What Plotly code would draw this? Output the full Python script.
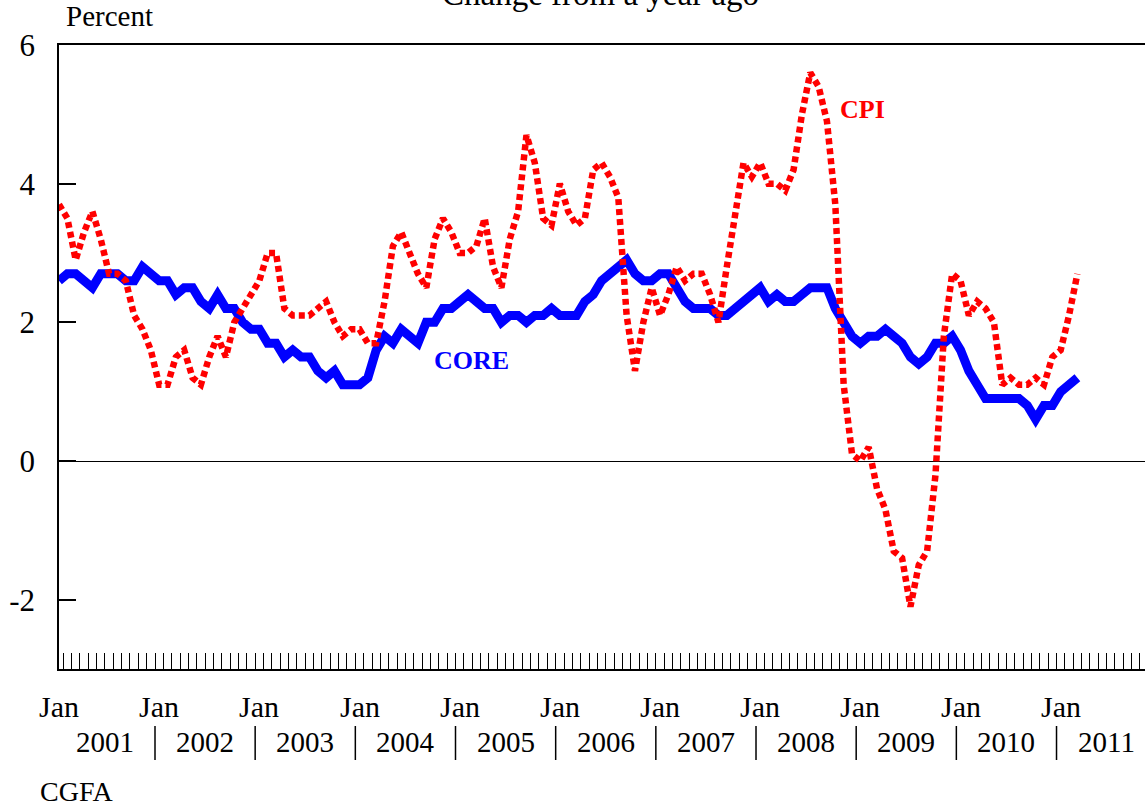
import plotly.graph_objects as go

# ---- data: year-over-year % change, monthly from Jan 2001 to Mar 2011 ----
cpi = [3.7, 3.5, 2.9, 3.3, 3.6, 3.2, 2.7, 2.7, 2.6, 2.1, 1.9, 1.6,
       1.1, 1.1, 1.5, 1.6, 1.2, 1.1, 1.5, 1.8, 1.5, 2.0, 2.2, 2.4,
       2.6, 3.0, 3.0, 2.2, 2.1, 2.1, 2.1, 2.2, 2.3, 2.0, 1.8, 1.9,
       1.9, 1.7, 1.7, 2.3, 3.1, 3.3, 3.0, 2.7, 2.5, 3.2, 3.5, 3.3,
       3.0, 3.0, 3.1, 3.5, 2.8, 2.5, 3.2, 3.6, 4.7, 4.3, 3.5, 3.4,
       4.0, 3.6, 3.4, 3.5, 4.2, 4.3, 4.1, 3.8, 2.1, 1.3, 2.0, 2.5,
       2.1, 2.4, 2.8, 2.6, 2.7, 2.7, 2.4, 2.0, 2.8, 3.5, 4.3, 4.1,
       4.3, 4.0, 4.0, 3.9, 4.2, 5.0, 5.6, 5.4, 4.9, 3.7, 1.1, 0.1,
       0.0, 0.2, -0.4, -0.7, -1.3, -1.4, -2.1, -1.5, -1.3, -0.2, 1.8, 2.7,
       2.6, 2.1, 2.3, 2.2, 2.0, 1.1, 1.2, 1.1, 1.1, 1.2, 1.1, 1.5,
       1.6, 2.1, 2.7]

core = [2.6, 2.7, 2.7, 2.6, 2.5, 2.7, 2.7, 2.7, 2.6, 2.6, 2.8, 2.7,
        2.6, 2.6, 2.4, 2.5, 2.5, 2.3, 2.2, 2.4, 2.2, 2.2, 2.0, 1.9,
        1.9, 1.7, 1.7, 1.5, 1.6, 1.5, 1.5, 1.3, 1.2, 1.3, 1.1, 1.1,
        1.1, 1.2, 1.6, 1.8, 1.7, 1.9, 1.8, 1.7, 2.0, 2.0, 2.2, 2.2,
        2.3, 2.4, 2.3, 2.2, 2.2, 2.0, 2.1, 2.1, 2.0, 2.1, 2.1, 2.2,
        2.1, 2.1, 2.1, 2.3, 2.4, 2.6, 2.7, 2.8, 2.9, 2.7, 2.6, 2.6,
        2.7, 2.7, 2.5, 2.3, 2.2, 2.2, 2.2, 2.1, 2.1, 2.2, 2.3, 2.4,
        2.5, 2.3, 2.4, 2.3, 2.3, 2.4, 2.5, 2.5, 2.5, 2.2, 2.0, 1.8,
        1.7, 1.8, 1.8, 1.9, 1.8, 1.7, 1.5, 1.4, 1.5, 1.7, 1.7, 1.8,
        1.6, 1.3, 1.1, 0.9, 0.9, 0.9, 0.9, 0.9, 0.8, 0.6, 0.8, 0.8,
        1.0, 1.1, 1.2]

years = ["2001", "2002", "2003", "2004", "2005", "2006",
         "2007", "2008", "2009", "2010", "2011"]
y_ticks = [-2, 0, 2, 4, 6]
y_tick_text = ["-2", "0", "2", "4", "6"]

month_index = list(range(len(cpi)))          # 0 = Jan 2001
jan_pos = [12 * k for k in range(len(years))]
year_mid = [12 * k + 5.5 for k in range(len(years))]
year_sep = [12 * k - 0.5 for k in range(1, len(years))]
month_bounds = [k + 0.5 for k in range(130)]

X_RANGE = [0, 130.1]
FONT = "Liberation Serif, Times New Roman, serif"

W, H = 1145, 804
ML, MR, MT, MB = 59, 0, 45, 135
PH = H - MT - MB
PW = W - ML - MR


def py(pix):  # pixel y -> paper y
    return (H - MB - pix) / PH


def px(pix):  # pixel x -> paper x
    return (pix - ML) / PW


fig = go.Figure()
fig.add_trace(go.Scatter(x=month_index, y=core, mode="lines", name="CORE",
                         line=dict(color="#0000FF", width=9)))
fig.add_trace(go.Scatter(x=month_index, y=cpi, mode="lines", name="CPI",
                         line=dict(color="#FF0000", width=6.5, dash="6px,4px")))

fig.update_layout(
    width=W, height=H,
    margin=dict(l=ML, r=MR, t=MT, b=MB, pad=0),
    paper_bgcolor="white", plot_bgcolor="white",
    showlegend=False,
    font=dict(family=FONT, color="black"),
    xaxis=dict(range=X_RANGE, showgrid=False, zeroline=False,
               showline=True, linecolor="black", linewidth=1.5, mirror=True,
               tickmode="array", tickvals=month_bounds, ticks="inside",
               ticklen=16, tickwidth=1, tickcolor="black",
               showticklabels=False),
    yaxis=dict(range=[-3, 6], showgrid=False,
               zeroline=True, zerolinecolor="black", zerolinewidth=1.2,
               showline=True, linecolor="black", linewidth=1.5,
               tickmode="array", tickvals=y_ticks, ticktext=y_tick_text,
               ticks="inside", ticklen=17, tickwidth=1.5, tickcolor="black",
               ticklabelstandoff=16,
               tickfont=dict(family=FONT, size=31, color="black")),
)

# "Jan" labels under each January
for p in jan_pos:
    fig.add_annotation(text="Jan", xref="x", yref="paper", x=p, y=py(706),
                       xanchor="center", yanchor="middle", showarrow=False,
                       font=dict(family=FONT, size=30, color="black"))
# year labels centred on each year
for p, t in zip(year_mid, years):
    fig.add_annotation(text=t, xref="x", yref="paper", x=p, y=py(742),
                       xanchor="center", yanchor="middle", showarrow=False,
                       font=dict(family=FONT, size=29, color="black"))
# year separators below the axis
for s in year_sep:
    fig.add_shape(type="line", xref="x", yref="paper",
                  x0=s, x1=s, y0=py(726), y1=py(760),
                  line=dict(color="black", width=1.5))

# texts
fig.add_annotation(text="Change from a year ago", xref="paper", yref="paper",
                   x=px(600), y=py(14), xanchor="center", yanchor="bottom",
                   showarrow=False, font=dict(family=FONT, size=33))
fig.add_annotation(text="Percent", xref="paper", yref="paper",
                   x=px(64), y=py(16), xanchor="left", yanchor="middle",
                   showarrow=False, font=dict(family=FONT, size=29))
fig.add_annotation(text="CGFA", xref="paper", yref="paper",
                   x=px(38), y=py(791), xanchor="left", yanchor="middle",
                   showarrow=False, font=dict(family=FONT, size=28))
fig.add_annotation(text="<b>CPI</b>", xref="paper", yref="paper",
                   x=px(862), y=py(110), xanchor="center", yanchor="middle",
                   showarrow=False, font=dict(family=FONT, size=26, color="#FF0000"))
fig.add_annotation(text="<b>CORE</b>", xref="paper", yref="paper",
                   x=px(472), y=py(360), xanchor="center", yanchor="middle",
                   showarrow=False, font=dict(family=FONT, size=26, color="#0000FF"))

fig.write_html("out.html", config={"displayModeBar": False},
               post_script="document.body.style.margin='0';document.body.style.overflow='hidden';")
